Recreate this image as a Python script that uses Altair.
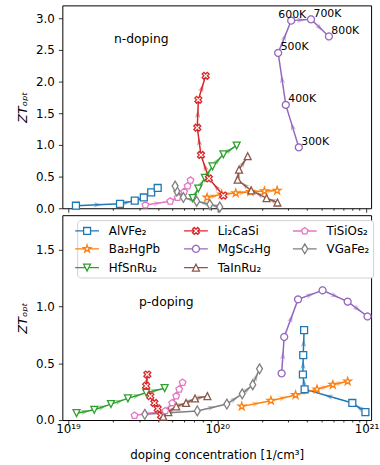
import math
import altair as alt
import pandas as pd

FONT = "DejaVu Sans"

MATERIALS = ["AlVFe₂", "Ba₂HgPb", "HfSnRu₂", "Li₂CaSi", "MgSc₂Hg", "TaInRu₂", "TiSiOs₂", "VGaFe₂"]
COLORS = ["#1f77b4", "#ff7f0e", "#2ca02c", "#d62728", "#9467bd", "#8c564b", "#e377c2", "#7f7f7f"]
TEMPS = ["300K", "400K", "500K", "600K", "700K", "800K"]
LEGEND_ORDER = MATERIALS

# ---------------- n-doping (300K -> 800K) ----------------
N_ALVFE2_DOP = [1.13e19, 2.23e19, 2.80e19, 3.22e19, 3.61e19, 3.99e19]
N_ALVFE2_ZT = [0.04, 0.07, 0.12, 0.17, 0.25, 0.32]
N_BA2HGPB_DOP = [8.55e19, 1.07e20, 1.33e20, 1.67e20, 2.07e20, 2.52e20]
N_BA2HGPB_ZT = [0.17, 0.22, 0.24, 0.26, 0.27, 0.28]
N_HFSNRU2_DOP = [6.85e19, 7.47e19, 8.26e19, 9.29e19, 1.10e20, 1.35e20]
N_HFSNRU2_ZT = [0.16, 0.31, 0.48, 0.66, 0.85, 0.99]
N_LI2CASI_DOP = [1.10e20, 8.79e19, 7.78e19, 7.35e19, 7.47e19, 8.36e19]
N_LI2CASI_ZT = [0.20, 0.47, 0.84, 1.27, 1.71, 2.09]
N_MGSC2HG_DOP = [3.52e20, 2.88e20, 2.56e20, 3.13e20, 4.25e20, 5.60e20]
N_MGSC2HG_ZT = [0.96, 1.63, 2.45, 2.96, 2.98, 2.71]
N_TAINRU2_DOP = [2.53e20, 2.14e20, 1.69e20, 1.37e20, 1.40e20, 1.60e20]
N_TAINRU2_ZT = [0.09, 0.16, 0.28, 0.45, 0.61, 0.82]
N_TISIOS2_DOP = [3.30e19, 4.84e19, 5.43e19, 6.00e19, 6.33e19, 6.62e19]
N_TISIOS2_ZT = [0.05, 0.11, 0.17, 0.26, 0.35, 0.44]
N_VGAFE2_DOP = [1.04e20, 8.92e19, 7.28e19, 5.93e19, 5.36e19, 5.22e19]
N_VGAFE2_ZT = [0.02, 0.06, 0.11, 0.17, 0.27, 0.35]

# ---------------- p-doping (300K -> 800K) ----------------
P_ALVFE2_DOP = [9.84e20, 8.04e20, 3.85e20, 3.75e20, 3.77e20, 3.82e20]
P_ALVFE2_ZT = [0.07, 0.15, 0.27, 0.40, 0.57, 0.79]
P_BA2HGPB_DOP = [1.46e20, 2.29e20, 3.35e20, 4.66e20, 5.95e20, 7.48e20]
P_BA2HGPB_ZT = [0.12, 0.17, 0.22, 0.27, 0.31, 0.34]
P_HFSNRU2_DOP = [1.14e19, 1.50e19, 1.94e19, 2.52e19, 3.34e19, 4.44e19]
P_HFSNRU2_ZT = [0.06, 0.09, 0.14, 0.19, 0.24, 0.28]
P_LI2CASI_DOP = [4.20e19, 3.99e19, 3.79e19, 3.56e19, 3.34e19, 3.40e19]
P_LI2CASI_ZT = [0.04, 0.10, 0.15, 0.21, 0.30, 0.40]
P_MGSC2HG_DOP = [2.70e20, 2.81e20, 3.48e20, 5.08e20, 7.48e20, 1.016e21]
P_MGSC2HG_ZT = [0.41, 0.73, 1.06, 1.14, 1.04, 0.91]
P_TAINRU2_DOP = [4.35e19, 4.70e19, 5.31e19, 6.18e19, 7.10e19, 8.59e19]
P_TAINRU2_ZT = [0.03, 0.07, 0.12, 0.15, 0.19, 0.21]
P_TISIOS2_DOP = [2.79e19, 4.49e19, 4.99e19, 5.31e19, 5.56e19, 5.86e19]
P_TISIOS2_ZT = [0.04, 0.08, 0.15, 0.21, 0.27, 0.33]
P_VGAFE2_DOP = [3.27e19, 7.35e19, 1.16e20, 1.47e20, 1.73e20, 1.92e20]
P_VGAFE2_ZT = [0.05, 0.08, 0.14, 0.23, 0.31, 0.45]

N_SERIES = [
    (N_ALVFE2_DOP, N_ALVFE2_ZT), (N_BA2HGPB_DOP, N_BA2HGPB_ZT), (N_HFSNRU2_DOP, N_HFSNRU2_ZT),
    (N_LI2CASI_DOP, N_LI2CASI_ZT), (N_MGSC2HG_DOP, N_MGSC2HG_ZT), (N_TAINRU2_DOP, N_TAINRU2_ZT),
    (N_TISIOS2_DOP, N_TISIOS2_ZT), (N_VGAFE2_DOP, N_VGAFE2_ZT),
]
P_SERIES = [
    (P_ALVFE2_DOP, P_ALVFE2_ZT), (P_BA2HGPB_DOP, P_BA2HGPB_ZT), (P_HFSNRU2_DOP, P_HFSNRU2_ZT),
    (P_LI2CASI_DOP, P_LI2CASI_ZT), (P_MGSC2HG_DOP, P_MGSC2HG_ZT), (P_TAINRU2_DOP, P_TAINRU2_ZT),
    (P_TISIOS2_DOP, P_TISIOS2_ZT), (P_VGAFE2_DOP, P_VGAFE2_ZT),
]

ANNOT_TOP = ["n-doping"]
ANNOT_TOP_X = [2.03e19]
ANNOT_TOP_Y = [2.67]
ANNOT_BOT = ["p-doping"]
ANNOT_BOT_X = [2.99e19]
ANNOT_BOT_Y = [1.04]

MAJOR_TICKS = [1e19, 1e20, 1e21]
MINOR_TICKS = [k * 1e19 for k in range(2, 10)] + [k * 1e20 for k in range(2, 10)]

# ---------------- layout ----------------
W = 312
H_TOP = 205
H_BOT = 207
X_DOMAIN = [10 ** 18.962, 10 ** 21.031]
Y_TOP = [0, 3.2]
Y_BOT = [0, 1.8]


# ---------------- marker shapes ----------------
def poly(points, k=1.0):
    return "M" + "L".join(f"{x * k:.3f},{y * k:.3f}" for x, y in points) + "Z"


def regular(n, r=1.0, start=-90.0, inner=None):
    pts = []
    step = 360.0 / n
    for i in range(n):
        a = math.radians(start + i * step)
        pts.append((r * math.cos(a), r * math.sin(a)))
        if inner is not None:
            b = math.radians(start + i * step + step / 2)
            pts.append((inner * math.cos(b), inner * math.sin(b)))
    return pts


SHAPES = {
    "AlVFe₂": ([(-1, -1), (1, -1), (1, 1), (-1, 1)], 1.0),
    "Ba₂HgPb": (regular(5, 1.15, inner=0.44), 0.5),
    "HfSnRu₂": ([(0, 1), (1, -1), (-1, -1)], 0.5),
    "Li₂CaSi": ([(0.5, 0), (1, 0.5), (0.5, 1), (0, 0.5), (-0.5, 1), (-1, 0.5), (-0.5, 0),
                 (-1, -0.5), (-0.5, -1), (0, -0.5), (0.5, -1), (1, -0.5)], 0.5),
    "MgSc₂Hg": (regular(24, 1.0), 1.0),
    "TaInRu₂": ([(0, -1), (1, 1), (-1, 1)], 0.5),
    "TiSiOs₂": (regular(5, 1.0), 0.85),
    "VGaFe₂": ([(0, -1.414), (0.85, 0), (0, 1.414), (-0.85, 0)], 0.85),
}
LEG_K = 3.5 / 6.0


def legend_path(pts, gap):
    g = gap * LEG_K
    return f"M-2,0H{-g:.3f}M{g:.3f},0H2" + poly(pts, LEG_K)


ARROW = "M1,0L-1,-0.6L-0.45,0L-1,0.6Z"

COLOR_OF = dict(zip(MATERIALS, COLORS))
COLOR_RANGE = [COLOR_OF[m] for m in LEGEND_ORDER]
SHAPE_RANGE = [poly(SHAPES[m][0]) for m in LEGEND_ORDER]
LEG_SHAPE_RANGE = [legend_path(*SHAPES[m]) for m in LEGEND_ORDER]


def build(series, ymax, height):
    sx = W / (math.log10(X_DOMAIN[1]) - math.log10(X_DOMAIN[0]))
    sy = height / ymax
    rows, arrows = [], []
    for mat, (xs, ys) in zip(MATERIALS, series):
        for i, (x, y) in enumerate(zip(xs, ys)):
            rows.append({"material": mat, "n": x, "zt": y, "order": i, "temp": TEMPS[i]})
        for i in range(len(xs) - 1):
            l1, l2 = math.log10(xs[i]), math.log10(xs[i + 1])
            dxp = (l2 - l1) * sx
            dyp = -(ys[i + 1] - ys[i]) * sy
            ang = math.degrees(math.atan2(dyp, dxp)) % 360.0
            arrows.append({"material": mat, "n": 10 ** ((l1 + l2) / 2),
                           "zt": (ys[i] + ys[i + 1]) / 2, "angle": ang})
    return pd.DataFrame(rows), pd.DataFrame(arrows)


df_n, ar_n = build(N_SERIES, Y_TOP[1], H_TOP)
df_p, ar_p = build(P_SERIES, Y_BOT[1], H_BOT)

MAJOR_TEST = "datum.value == 1e19 || datum.value == 1e20 || datum.value == 1e21"
LABEL_EXPR = ("datum.value == 1e19 ? '10¹⁹' : datum.value == 1e20 ? '10²⁰' : "
              "datum.value == 1e21 ? '10²¹' : ''")


def x_enc(bottom):
    axis_kw = dict(values=MAJOR_TICKS + MINOR_TICKS, grid=False, domain=False,
                   tickSize={"condition": {"test": MAJOR_TEST, "value": 4}, "value": 2},
                   tickColor="black", tickWidth=0.8, labelOverlap=False)
    if bottom:
        axis = alt.Axis(labelExpr=LABEL_EXPR, labelFontSize=12, labelPadding=0,
                        title="doping concentration [1/cm³]", titleFontSize=12,
                        titleFontWeight="normal", titlePadding=15, **axis_kw)
    else:
        axis = alt.Axis(labels=False, title=None, **axis_kw)
    return alt.X("n:Q", scale=alt.Scale(type="log", domain=X_DOMAIN, nice=False), axis=axis)


def y_enc(ymax, ticks):
    return alt.Y("zt:Q", scale=alt.Scale(domain=[0, ymax], nice=False, zero=False),
                 axis=alt.Axis(values=ticks, format=".1f", grid=False, domain=False,
                               tickSize=4, tickColor="black", tickWidth=0.8,
                               labelFontSize=12, labelPadding=4,
                               title="ZTₒₚₜ", titleFontSize=13, titleFontWeight="normal",
                               titleFontStyle="italic", titlePadding=6))


def color_enc(legend=None):
    return alt.Color("material:N", scale=alt.Scale(domain=LEGEND_ORDER, range=COLOR_RANGE),
                     legend=legend)


def panel(df, ar, ymax, height, yticks, bottom, annot):
    x = x_enc(bottom)
    y = y_enc(ymax, yticks)
    lines = alt.Chart(df).mark_line(strokeWidth=1.5).encode(
        x=x, y=y, color=color_enc(), order="order:Q", detail="material:N")
    arrows = alt.Chart(ar).mark_point(shape=ARROW, filled=True, size=80, opacity=0.5,
                                      strokeWidth=0).encode(
        x=x, y=y, color=color_enc(), angle=alt.Angle("angle:Q", scale=None))
    points = alt.Chart(df).mark_point(filled=False, fill="white", strokeWidth=1.3, size=49,
                                      opacity=1).encode(
        x=x, y=y, color=color_enc(),
        shape=alt.Shape("material:N", scale=alt.Scale(domain=LEGEND_ORDER, range=SHAPE_RANGE),
                        legend=None))
    text_df = pd.DataFrame({"text": annot[0], "n": annot[1], "zt": annot[2]})
    label = alt.Chart(text_df).mark_text(align="left", baseline="middle", fontSize=12.5,
                                         font=FONT, color="black").encode(
        x=x, y=y, text="text:N")
    layers = [lines, arrows, points, label]
    if not bottom:
        mg = df[df["material"] == "MgSc₂Hg"]
        t1 = alt.Chart(mg).transform_filter("datum.temp != '600K'").mark_text(
            align="left", baseline="middle", dx=2.5, dy=-5.5, fontSize=11, font=FONT,
            color="black").encode(x=x, y=y, text="temp:N")
        t2 = alt.Chart(mg).transform_filter("datum.temp == '600K'").mark_text(
            align="left", baseline="middle", dx=-13, dy=-6, fontSize=11, font=FONT,
            color="black").encode(x=x, y=y, text="temp:N")
        layers += [t1, t2]
    else:
        leg = alt.Legend(orient="none", legendX=15, legendY=5, columns=3, gridAlign="all",
                         title=None, columnPadding=19, rowPadding=3, labelOffset=15,
                         symbolSize=144, symbolStrokeWidth=1.3, symbolFillColor="white",
                         labelFont=FONT, labelFontSize=12, labelColor="black",
                         padding=3, fillColor="white", strokeColor="#d0d0d0",
                         cornerRadius=3)
        legend_layer = alt.Chart(df).transform_filter("false").mark_point(
            filled=False, fill="white", strokeWidth=1.3, size=144, opacity=1).encode(
            x=x, y=y, color=color_enc(leg),
            shape=alt.Shape("material:N",
                            scale=alt.Scale(domain=LEGEND_ORDER, range=LEG_SHAPE_RANGE),
                            legend=leg))
        layers += [legend_layer]
    ch = alt.layer(*layers).properties(width=W, height=height)
    if bottom:
        ch = ch.resolve_scale(color="independent", shape="independent")
    return ch


top = panel(df_n, ar_n, Y_TOP[1], H_TOP, [0, 0.5, 1.0, 1.5, 2.0, 2.5, 3.0], False,
            (ANNOT_TOP, ANNOT_TOP_X, ANNOT_TOP_Y))
bot = panel(df_p, ar_p, Y_BOT[1], H_BOT, [0, 0.5, 1.0, 1.5], True,
            (ANNOT_BOT, ANNOT_BOT_X, ANNOT_BOT_Y))

chart = alt.vconcat(top, bot, spacing=-4).properties(
    padding={"left": 16, "top": 2, "right": 0, "bottom": 0},
    background="white",
).configure_view(stroke="black", strokeWidth=1).configure_axis(
    labelFont=FONT, titleFont=FONT, labelColor="black", titleColor="black"
)

chart.save("out.html", embed_options={"renderer": "svg", "actions": False})
